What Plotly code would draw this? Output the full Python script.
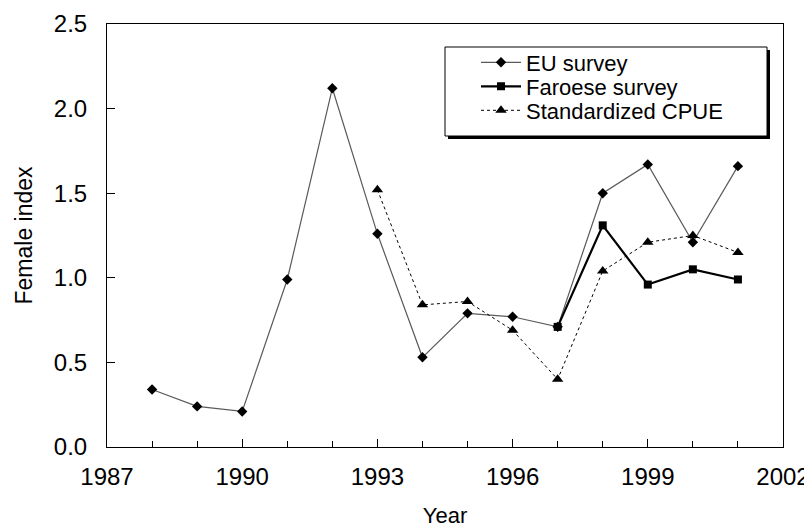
import plotly.graph_objects as go

years_eu = [1988, 1989, 1990, 1991, 1992, 1993, 1994, 1995, 1996, 1997, 1998, 1999, 2000, 2001]
eu_survey = [0.34, 0.24, 0.21, 0.99, 2.12, 1.26, 0.53, 0.79, 0.77, 0.71, 1.50, 1.67, 1.21, 1.66]

years_far = [1997, 1998, 1999, 2000, 2001]
faroese_survey = [0.71, 1.31, 0.96, 1.05, 0.99]

years_cpue = [1993, 1994, 1995, 1996, 1997, 1998, 1999, 2000, 2001]
std_cpue = [1.52, 0.84, 0.86, 0.69, 0.40, 1.04, 1.21, 1.25, 1.15]

x_ticks = [1987, 1990, 1993, 1996, 1999, 2002]
y_ticks = [0.0, 0.5, 1.0, 1.5, 2.0, 2.5]

FONT = "Liberation Sans, Arial, sans-serif"

# page has an 8px body margin; plot area wanted at screen px 107..783 x 24..447
L, R, T, B = 99, 37, 16, 92
PW, PH = 812 - L - R, 531 - T - B
OFF = 8


def px_x(sx):
    return (sx - OFF - L) / PW


def px_y(sy):
    return 1 - (sy - OFF - T) / PH


fig = go.Figure()
fig.add_trace(go.Scatter(
    x=years_eu, y=eu_survey, name="EU survey", mode="lines+markers",
    line=dict(color="#5a5a5a", width=1.2),
    marker=dict(symbol="diamond", size=8, color="black"),
    legend="legend",
))
fig.add_trace(go.Scatter(
    x=years_far, y=faroese_survey, name="Faroese survey", mode="lines+markers",
    line=dict(color="black", width=2.2),
    marker=dict(symbol="square", size=8, color="black"),
    legend="legend2",
))
fig.add_trace(go.Scatter(
    x=years_cpue, y=std_cpue, name="Standardized CPUE", mode="lines+markers",
    line=dict(color="black", width=1, dash="3px,3px"),
    marker=dict(symbol="triangle-up", size=10, color="black"),
    legend="legend3",
))

# legend frame with drop shadow (screen px: 445..767 x 47..136)
fig.add_shape(type="rect", xref="paper", yref="paper",
              x0=px_x(448), x1=px_x(770), y0=px_y(139), y1=px_y(50),
              fillcolor="black", line=dict(width=0), layer="above")
fig.add_shape(type="rect", xref="paper", yref="paper",
              x0=px_x(445), x1=px_x(767), y0=px_y(136), y1=px_y(47),
              fillcolor="white", line=dict(color="black", width=1), layer="above")


def leg(center_y):
    return dict(
        x=px_x(476), y=px_y(center_y), xanchor="left", yanchor="middle",
        bgcolor="rgba(0,0,0,0)", borderwidth=0,
        font=dict(family=FONT, size=22, color="black"),
        itemwidth=40,
    )


fig.update_layout(
    width=812, height=531,
    margin=dict(l=L, r=R, t=T, b=B),
    paper_bgcolor="white", plot_bgcolor="white",
    font=dict(family=FONT, size=23, color="black"),
    showlegend=True,
    legend=leg(62.5),
    legend2=leg(86.5),
    legend3=leg(110.5),
    xaxis=dict(
        range=[1987, 2002], tickmode="array", tickvals=x_ticks,
        ticktext=[str(v) for v in x_ticks],
        ticks="inside", ticklen=8, tickcolor="black",
        minor=dict(dtick=1, ticks="inside", ticklen=6, tickcolor="black"),
        showline=True, linecolor="black", linewidth=1, mirror=True,
        showgrid=False, zeroline=False, automargin=False,
        title=dict(text="Year", font=dict(size=22), standoff=18),
        tickfont=dict(size=24), ticklabelstandoff=8,
    ),
    yaxis=dict(
        range=[0, 2.5], tickmode="array", tickvals=y_ticks,
        ticktext=[f"{v:.1f}" for v in y_ticks],
        ticks="inside", ticklen=8, tickcolor="black",
        showline=True, linecolor="black", linewidth=1, mirror=True,
        showgrid=False, zeroline=False, automargin=False,
        title=dict(text="Female index", font=dict(size=23), standoff=14),
        tickfont=dict(size=24), ticklabelstandoff=14,
    ),
)

fig.write_html("out.html")
